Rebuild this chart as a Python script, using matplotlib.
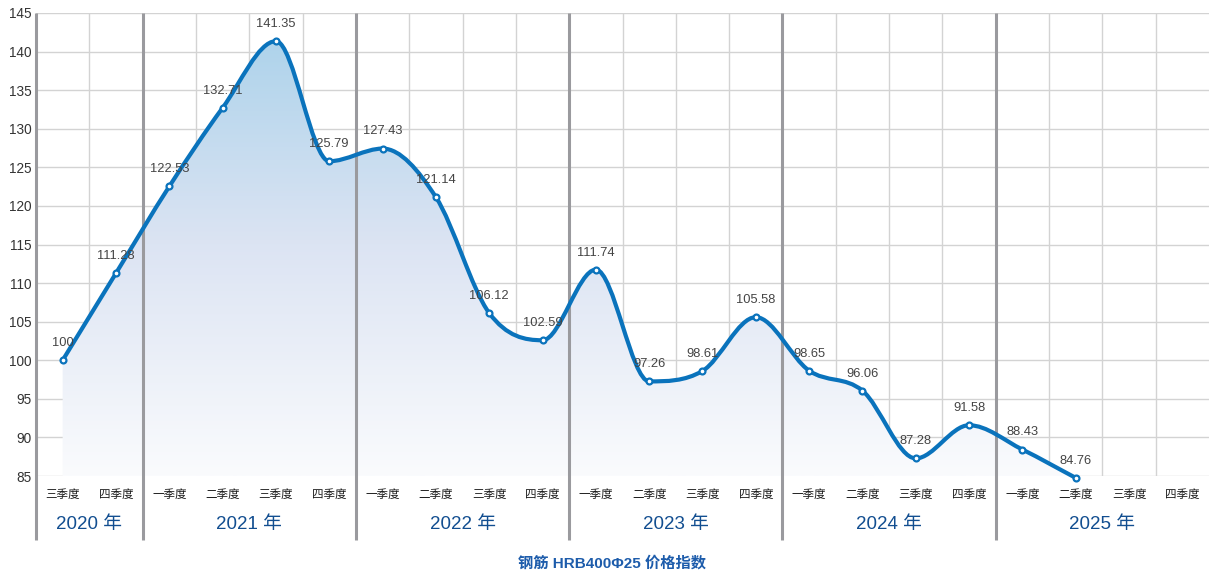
import numpy as np
import matplotlib
matplotlib.use("Agg")
import matplotlib.pyplot as plt
from matplotlib.path import Path
from matplotlib.patches import PathPatch
from matplotlib.colors import LinearSegmentedColormap
import matplotlib.transforms as mtransforms

plt.rcParams["font.family"] = ["Liberation Sans", "Noto Sans CJK SC", "DejaVu Sans"]

# 数据
years = ["2020 年", "2021 年", "2022 年", "2023 年", "2024 年", "2025 年"]
quarters_per_year = [2, 4, 4, 4, 4, 4]
quarter_labels = ["三季度", "四季度"] + ["一季度", "二季度", "三季度", "四季度"] * 5
values = [100, 111.28, 122.53, 132.71, 141.35, 125.79, 127.43, 121.14, 106.12, 102.59,
          111.74, 97.26, 98.61, 105.58, 98.65, 96.06, 87.28, 91.58, 88.43, 84.76]
value_labels = ["100", "111.28", "122.53", "132.71", "141.35", "125.79", "127.43", "121.14",
                "106.12", "102.59", "111.74", "97.26", "98.61", "105.58", "98.65", "96.06",
                "87.28", "91.58", "88.43", "84.76"]
title = "钢筋 HRB400Φ25 价格指数"

line_color = "#0a73bc"
sep_color = "#9a9a9e"
grid_color = "#d3d3d3"

fig = plt.figure(figsize=(12.09, 5.72), dpi=100)
ax = fig.add_axes([36 / 1209, 96 / 572, 1173 / 1209, 463 / 572])

n_cat = len(quarter_labels)
ax.set_xlim(-0.5, n_cat - 0.5)
ax.set_ylim(85, 145)

# 网格
ax.set_yticks(np.arange(85, 146, 5))
ax.set_xticks(np.arange(n_cat))
ax.set_xticklabels(quarter_labels, fontsize=8.3, color="#1a1a1a")
ax.tick_params(axis="x", length=0, pad=9)
ax.tick_params(axis="y", length=0, pad=3, labelsize=9.8, labelcolor="#333333")
for y in np.arange(85, 146, 5):
    ax.axhline(y, color=grid_color, lw=1, zorder=0)
for b in np.arange(0.5, n_cat - 0.5, 1):
    ax.axvline(b, color=grid_color, lw=1, zorder=0)
for s in ax.spines.values():
    s.set_visible(False)

# 年份分隔线
trans = mtransforms.blended_transform_factory(ax.transData, ax.transAxes)
bounds = [-0.5]
for q in quarters_per_year[:-1]:
    bounds.append(bounds[-1] + q)
for b in bounds:
    ax.plot([b, b], [1, -64 / 463], color=sep_color, lw=2.2, transform=trans,
            clip_on=False, zorder=3, solid_capstyle="butt")
start = -0.5
for yr, q in zip(years, quarters_per_year):
    ax.text(start + q / 2, -49 / 463, yr, transform=trans, ha="center", va="center",
            fontsize=13.5, color="#124e90", fontweight="medium")
    start += q

# 单调三次曲线 (Fritsch-Carlson)
x = np.arange(len(values), dtype=float)
y = np.array(values, dtype=float)
d = np.diff(y) / np.diff(x)
m = np.zeros_like(y)
m[0] = d[0]
m[-1] = d[-1]
for i in range(1, len(y) - 1):
    m[i] = 0 if d[i - 1] * d[i] <= 0 else (d[i - 1] + d[i]) / 2
for i in range(len(d)):
    if d[i] == 0:
        m[i] = m[i + 1] = 0
        continue
    a, b = m[i] / d[i], m[i + 1] / d[i]
    sq = a * a + b * b
    if sq > 9:
        t = 3 / np.sqrt(sq)
        m[i] = a * t * d[i]
        m[i + 1] = b * t * d[i]

verts = [(x[0], y[0])]
codes = [Path.MOVETO]
for i in range(len(d)):
    dx = (x[i + 1] - x[i]) / 3
    verts += [(x[i] + dx, y[i] + m[i] * dx), (x[i + 1] - dx, y[i + 1] - m[i + 1] * dx),
              (x[i + 1], y[i + 1])]
    codes += [Path.CURVE4] * 3
line_path = Path(verts, codes)

fill_verts = verts + [(x[-1], 85), (x[0], 85), (x[0], y[0])]
fill_codes = codes + [Path.LINETO, Path.LINETO, Path.CLOSEPOLY]
fill_patch = PathPatch(Path(fill_verts, fill_codes), facecolor="none", edgecolor="none")
ax.add_patch(fill_patch)

cmap = LinearSegmentedColormap.from_list("g", ["#fafbfd", "#dce4f3", "#a8d1ea"])
grad = np.linspace(0, 1, 256).reshape(-1, 1)
im = ax.imshow(grad, cmap=cmap, aspect="auto", extent=[-0.5, n_cat - 0.5, 85, 145],
               origin="lower", zorder=1)
im.set_clip_path(fill_patch)

ax.add_patch(PathPatch(line_path, facecolor="none", edgecolor=line_color, lw=3,
                       zorder=4, capstyle="round", joinstyle="round", clip_on=False))
ax.scatter(x, y, s=18, facecolor="white", edgecolor=line_color, linewidths=1.6,
           zorder=5, clip_on=False)

for xi, yi, lab in zip(x, y, value_labels):
    ax.annotate(lab, (xi, yi), xytext=(0, 8), textcoords="offset points",
                ha="center", va="bottom", fontsize=9.3, color="#444444", zorder=6,
                annotation_clip=False)

fig.text(612 / 1209, 1 - 563 / 572, title, ha="center", va="center", fontsize=11,
         color="#1d5cab", fontweight="bold")

fig.savefig("out.png", dpi=100)
